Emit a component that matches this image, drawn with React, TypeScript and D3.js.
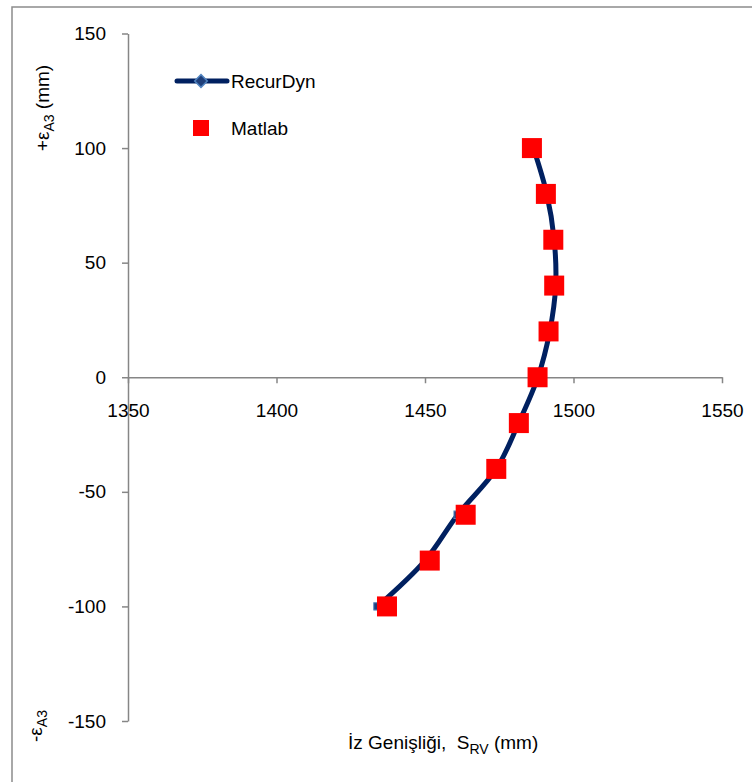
import React, { useEffect, useRef } from "react";
import * as d3 from "d3";

// eps A3 (mm) values, same for both series
const epsValues = [100, 80, 60, 40, 20, 0, -20, -40, -60, -80, -100];
// S_RV (mm)
const recurDynS = [1486.5, 1491, 1493.5, 1494, 1492, 1488, 1481.5, 1474, 1461, 1450, 1434];
const matlabS = [1486, 1490.7, 1493.2, 1493.5, 1491.6, 1487.9, 1481.6, 1474, 1463.7, 1451.6, 1437.2];

const xTicks = [1350, 1400, 1450, 1500, 1550];
const yTicks = [150, 100, 50, 0, -50, -100, -150];

const W = 752;
const H = 782;
const FONT = "'Liberation Sans', Arial, sans-serif";

export default function App() {
  const ref = useRef<SVGSVGElement>(null);

  useEffect(() => {
    const svg = d3.select(ref.current);
    svg.selectAll("*").remove();

    // outer frame (runs off the right and bottom)
    svg.append("rect")
      .attr("x", 12).attr("y", 7)
      .attr("width", W + 20).attr("height", H + 20)
      .attr("fill", "#fff")
      .attr("stroke", "#8c8c8c").attr("stroke-width", 1.5);

    const x = d3.scaleLinear().domain([1350, 1550]).range([128, 722]);
    const y = d3.scaleLinear().domain([-150, 150]).range([721, 33.5]);

    // y axis at x = 1350
    const gy = svg.append("g")
      .attr("transform", `translate(${x(1350)},0)`)
      .call(d3.axisLeft(y).tickValues(yTicks).tickSize(6).tickSizeOuter(0).tickPadding(16)
        .tickFormat(d => String(d)));

    // x axis at y = 0
    const gx = svg.append("g")
      .attr("transform", `translate(0,${y(0)})`)
      .call(d3.axisBottom(x).tickValues(xTicks).tickSize(6).tickSizeOuter(0).tickPadding(20)
        .tickFormat(d => String(d)));

    [gx, gy].forEach(g => {
      g.select(".domain").attr("stroke", "#868686").attr("stroke-width", 1.5);
      g.selectAll(".tick line").attr("stroke", "#868686").attr("stroke-width", 1.5);
      g.selectAll(".tick text")
        .attr("fill", "#000")
        .style("font-family", FONT)
        .style("font-size", "19px");
    });

    // RecurDyn smooth line
    const line = d3.line<number>()
      .x((d, i) => x(recurDynS[i]))
      .y(d => y(d))
      .curve(d3.curveCatmullRom.alpha(0.5));

    svg.append("path")
      .datum(epsValues)
      .attr("d", line)
      .attr("fill", "none")
      .attr("stroke", "#002060")
      .attr("stroke-width", 5);

    const diamond = d3.symbol().type(d3.symbolDiamond2).size(70);
    svg.append("g")
      .selectAll("path")
      .data(epsValues)
      .join("path")
      .attr("d", diamond)
      .attr("transform", (d, i) => `translate(${x(recurDynS[i])},${y(d)}) rotate(45)`)
      .attr("fill", "#1f3f7a")
      .attr("stroke", "#4f81bd")
      .attr("stroke-width", 1);

    // Matlab squares
    svg.append("g")
      .selectAll("rect")
      .data(epsValues)
      .join("rect")
      .attr("x", (d, i) => x(matlabS[i]) - 10)
      .attr("y", d => y(d) - 10)
      .attr("width", 20)
      .attr("height", 20)
      .attr("fill", "#ff0000");

    // legend
    const lg = svg.append("g");
    lg.append("line")
      .attr("x1", 177).attr("x2", 227).attr("y1", 81).attr("y2", 81)
      .attr("stroke", "#002060").attr("stroke-width", 5).attr("stroke-linecap", "round");
    lg.append("path")
      .attr("d", d3.symbol().type(d3.symbolSquare).size(80)())
      .attr("transform", "translate(201,81) rotate(45)")
      .attr("fill", "#1f3f7a")
      .attr("stroke", "#4f81bd")
      .attr("stroke-width", 1.5);
    lg.append("text")
      .attr("x", 231).attr("y", 88)
      .text("RecurDyn");
    lg.append("rect")
      .attr("x", 193).attr("y", 120).attr("width", 16).attr("height", 16)
      .attr("fill", "#ff0000");
    lg.append("text")
      .attr("x", 231).attr("y", 135)
      .text("Matlab");
    lg.selectAll("text")
      .style("font-family", FONT)
      .style("font-size", "19px")
      .attr("fill", "#000");

    // axis titles
    const yt = svg.append("text")
      .attr("transform", "translate(49,108) rotate(-90)")
      .attr("text-anchor", "middle")
      .style("font-family", FONT)
      .style("font-size", "19px");
    yt.append("tspan").text("+ε");
    yt.append("tspan").attr("dy", 5).style("font-size", "14px").text("A3");
    yt.append("tspan").attr("dy", -5).text(" (mm)");

    const yb = svg.append("text")
      .attr("transform", "translate(42,726) rotate(-90)")
      .attr("text-anchor", "middle")
      .style("font-family", FONT)
      .style("font-size", "19px");
    yb.append("tspan").text("-ε");
    yb.append("tspan").attr("dy", 5).style("font-size", "14px").text("A3");

    const xt = svg.append("text")
      .attr("x", 348).attr("y", 749)
      .style("font-family", FONT)
      .style("font-size", "19px")
      .attr("xml:space", "preserve");
    xt.append("tspan").text("İz Genişliği,  S");
    xt.append("tspan").attr("dy", 5).style("font-size", "14px").text("RV");
    xt.append("tspan").attr("dy", -5).text(" (mm)");
  }, []);

  return (
    <svg
      ref={ref}
      width={W}
      height={H}
      style={{ position: "absolute", left: 0, top: 0, display: "block", background: "#fff" }}
    />
  );
}
